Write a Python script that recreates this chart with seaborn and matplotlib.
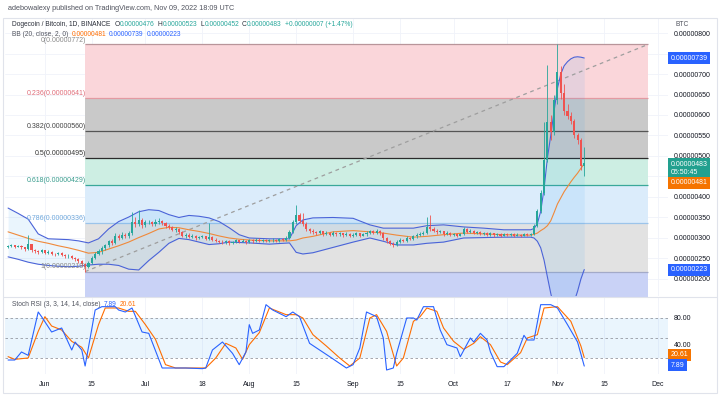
import numpy as np
import pandas as pd
import matplotlib
matplotlib.use('Agg')
import matplotlib.pyplot as plt
import matplotlib.transforms as mtransforms
from matplotlib.ticker import FuncFormatter
import seaborn as sns

# prices are in units of 1e-8 BTC (satoshi)
first_day = '2022-05-21'
first_open = 278

close_may = [280, 282, 279, 281, 277, 272, 285, 270, 268, 266, 270]
close_jun = [264, 267, 262, 260, 263, 258, 255, 257, 252, 249, 244, 236, 230, 240, 252,
             262, 268, 275, 282, 292, 288, 305, 300, 308, 305, 312, 340, 335, 345, 332]
close_jul = [338, 340, 333, 340, 342, 336, 330, 328, 320, 322, 315, 306, 308, 303, 305, 300,
             302, 304, 298, 302, 296, 293, 291, 289, 292, 288, 290, 294, 291, 293, 290]
close_aug = [294, 292, 296, 293, 295, 292, 294, 296, 293, 297, 295, 300, 315, 338, 355, 342,
             335, 322, 318, 315, 313, 316, 310, 313, 308, 312, 309, 311, 307, 310, 306]
close_sep = [308, 311, 306, 309, 312, 316, 313, 318, 312, 300, 292, 286, 283, 290, 295,
             293, 300, 298, 304, 308, 310, 312, 326, 322, 318, 314, 316, 310, 312, 308]
close_oct = [310, 306, 309, 322, 315, 318, 312, 314, 310, 312, 308, 311, 307, 309, 306, 310,
             307, 309, 306, 308, 305, 309, 307, 310, 330, 365, 410, 490, 583, 558, 636]
close_nov = [705, 654, 610, 598, 585, 552, 538, 476, 483]

high_may = [284, 285, 284, 283, 282, 278, 307, 286, 272, 270, 274]
high_jun = [271, 270, 268, 264, 266, 265, 260, 260, 258, 254, 251, 246, 240, 244, 255,
            266, 272, 280, 286, 296, 298, 312, 310, 314, 312, 318, 363, 350, 368, 348]
high_jul = [344, 345, 342, 346, 348, 345, 338, 334, 330, 326, 324, 318, 312, 311, 309, 307,
            306, 308, 306, 337, 305, 299, 296, 294, 295, 294, 293, 297, 296, 297, 295]
high_aug = [298, 297, 300, 299, 298, 297, 298, 301, 298, 301, 300, 305, 320, 345, 380, 362,
            362, 338, 325, 321, 318, 320, 318, 316, 315, 316, 314, 315, 313, 314, 312]
high_sep = [312, 315, 313, 313, 316, 320, 319, 322, 320, 314, 302, 295, 290, 294, 299,
            298, 304, 303, 308, 312, 314, 318, 351, 355, 326, 321, 320, 318, 316, 314]
high_oct = [313, 312, 312, 328, 324, 321, 319, 317, 316, 315, 314, 314, 313, 313, 311, 313,
            312, 312, 311, 311, 310, 312, 311, 313, 334, 370, 418, 583, 722, 600, 650]
high_nov = [772, 720, 675, 628, 607, 590, 556, 545, 523]

low_may = [276, 278, 276, 277, 274, 268, 270, 266, 264, 262, 263]
low_jun = [260, 261, 259, 257, 258, 255, 251, 252, 249, 245, 240, 232, 218, 226, 236,
           248, 258, 262, 270, 278, 284, 285, 296, 297, 300, 301, 308, 326, 330, 325]
low_jul = [328, 333, 329, 330, 335, 331, 325, 322, 316, 315, 310, 302, 300, 299, 300, 296,
           297, 299, 294, 296, 292, 289, 287, 285, 286, 284, 285, 288, 287, 289, 286]
low_aug = [288, 288, 290, 289, 290, 289, 290, 291, 289, 291, 292, 293, 298, 312, 334, 336,
           330, 318, 312, 309, 308, 310, 306, 307, 304, 305, 305, 306, 303, 304, 302]
low_sep = [303, 305, 303, 304, 306, 309, 309, 310, 308, 296, 288, 282, 278, 281, 287,
           289, 291, 294, 296, 301, 304, 307, 309, 318, 314, 310, 311, 306, 307, 304]
low_oct = [305, 303, 304, 307, 312, 312, 309, 310, 307, 308, 305, 306, 302, 305, 303, 305,
           304, 305, 303, 304, 302, 304, 304, 305, 308, 328, 360, 405, 485, 540, 552]
low_nov = [628, 640, 600, 590, 578, 545, 530, 465, 452]

# Bollinger bands (20, close, 2)
bb_dates = ['2022-05-21', '2022-05-24', '2022-05-27', '2022-05-30',
            '2022-06-02', '2022-06-05', '2022-06-08', '2022-06-11', '2022-06-14', '2022-06-17',
            '2022-06-20', '2022-06-23', '2022-06-26', '2022-06-29',
            '2022-07-02', '2022-07-05', '2022-07-08', '2022-07-11', '2022-07-14', '2022-07-17',
            '2022-07-20', '2022-07-23', '2022-07-26', '2022-07-29',
            '2022-08-01', '2022-08-07', '2022-08-13', '2022-08-15', '2022-08-17', '2022-08-20',
            '2022-08-26',
            '2022-09-01', '2022-09-06', '2022-09-10', '2022-09-14', '2022-09-19', '2022-09-23',
            '2022-09-28',
            '2022-10-04', '2022-10-10', '2022-10-16', '2022-10-22', '2022-10-24', '2022-10-25',
            '2022-10-26', '2022-10-27', '2022-10-28', '2022-10-29', '2022-10-30', '2022-10-31',
            '2022-11-01', '2022-11-02', '2022-11-03', '2022-11-04', '2022-11-05', '2022-11-06',
            '2022-11-07', '2022-11-08', '2022-11-09']
bb_upper = [373, 360, 346, 310,
            298, 297, 296, 293, 288, 298, 322, 340, 351, 364,
            369, 367, 357, 350, 355, 353, 349, 340, 325, 308,
            300, 298, 298, 330, 344, 349, 350,
            348, 332, 324, 324, 324, 330, 332,
            327, 324, 320, 320, 320, 323, 335, 365, 420, 495, 550, 610,
            665, 700, 720, 730, 737, 741, 742, 741, 739]
bb_basis = [315, 307, 299, 292,
            287, 281, 276, 270, 263, 265, 273, 281, 290, 301,
            311, 322, 326, 325, 320, 316, 311, 305, 300, 297,
            295, 293, 293, 295, 300, 304, 315,
            318, 315, 312, 307, 302, 304, 308,
            312, 310, 308, 307, 307, 309, 312, 318, 323, 330, 342, 362,
            383, 398, 413, 425, 437, 448, 458, 470, 481]
bb_lower = [254, 248, 241, 236,
            233, 231, 230, 231, 234, 236, 236, 233, 224, 222,
            245, 265, 287, 299, 296, 290, 284, 286, 290, 289,
            288, 285, 288, 265, 261, 264, 277,
            290, 300, 292, 283, 283, 287, 290,
            300, 301, 302, 302, 302, 300, 292, 276, 246, 205, 165, 130,
            110, 95, 90, 100, 118, 145, 170, 200, 223]

# Stoch RSI (3, 3, 14, 14, close)
k_dates = ['05-21', '05-23', '05-25', '05-27', '05-30', '05-31', '06-03', '06-06', '06-09',
           '06-10', '06-12', '06-13', '06-16', '06-18', '06-22', '06-23', '06-25', '06-27',
           '06-30', '07-02', '07-03', '07-06', '07-09', '07-13', '07-18', '07-19', '07-21',
           '07-24', '07-27', '07-29', '07-31', '08-01', '08-02', '08-04', '08-06', '08-08',
           '08-12', '08-14', '08-16', '08-19', '08-22', '08-25', '08-30', '09-01', '09-03',
           '09-05', '09-08', '09-10', '09-11', '09-13', '09-14', '09-17', '09-19', '09-20',
           '09-22', '09-25', '09-27', '09-29', '10-02', '10-03', '10-06', '10-07', '10-09',
           '10-11', '10-12', '10-14', '10-16', '10-20', '10-22', '10-23', '10-25', '10-27',
           '10-30', '11-01', '11-04', '11-07', '11-09']
k_vals = [17, 17, 29, 24, 89, 82, 59, 65, 32,
          44, 32, 8, 92, 97, 97, 92, 89, 95,
          59, 57, 44, 5, 5, 5, 4, 5, 32,
          44, 27, 10, 29, 70, 57, 62, 100, 92,
          82, 89, 82, 42, 32, 22, 5, 10, 35,
          89, 82, 50, 2, 5, 27, 80, 80, 77,
          97, 97, 62, 40, 35, 22, 50, 44, 57,
          47, 29, 7, 7, 27, 54, 47, 47, 100,
          100, 95, 70, 44, 7.89]
d_dates = ['05-21', '05-23', '05-27', '05-30', '06-01', '06-03', '06-06', '06-09', '06-12',
           '06-14', '06-17', '06-19', '06-23', '06-26', '06-28', '07-01', '07-04', '07-07',
           '07-10', '07-19', '07-22', '07-25', '07-28', '07-30', '08-01', '08-04', '08-07',
           '08-12', '08-15', '08-17', '08-20', '08-24', '08-28', '08-31', '09-03', '09-06',
           '09-08', '09-11', '09-14', '09-16', '09-19', '09-21', '09-23', '09-26', '09-28',
           '10-01', '10-04', '10-07', '10-09', '10-12', '10-15', '10-17', '10-21', '10-23',
           '10-26', '10-28', '11-01', '11-05', '11-08', '11-09']
d_vals = [22, 18, 20, 60, 82, 68, 62, 45, 36,
          20, 70, 95, 95, 90, 90, 70, 48, 10,
          5, 5, 20, 42, 35, 18, 40, 58, 95,
          85, 85, 80, 55, 38, 20, 8, 20, 80,
          85, 60, 8, 20, 75, 82, 95, 90, 65,
          45, 33, 42, 52, 40, 14, 10, 28, 50,
          55, 95, 97, 75, 38, 20.61]

# fibonacci retracement
fib_ratios = [0, 0.236, 0.382, 0.5, 0.618, 0.786, 1]
fib_prices = [772, 641, 560, 495, 429, 336, 218]
fib_start = '2022-06-13'
fib_end = '2022-11-28'

price_ticks = [200, 250, 300, 350, 400, 450, 500, 550, 600, 650, 700, 750, 800]
hidden_price_ticks = [450, 750]   # covered by the last-value boxes
stoch_ticks = [0, 40, 80]
date_ticks = ['2022-06-01', '2022-06-15', '2022-07-01', '2022-07-18', '2022-08-01',
              '2022-08-15', '2022-09-01', '2022-09-15', '2022-10-01', '2022-10-17',
              '2022-11-01', '2022-11-15', '2022-12-01']
date_labels = ['Jun', '15', 'Jul', '18', 'Aug', '15', 'Sep', '15', 'Oct', '17', 'Nov', '15', 'Dec']

GREEN = '#26a69a'
RED = '#ef5350'
BLUE = '#2962ff'
ORANGE = '#ff6d00'

sns.set_theme(style='white')
plt.rcParams['font.family'] = ['Liberation Sans', 'DejaVu Sans']

closes = close_may + close_jun + close_jul + close_aug + close_sep + close_oct + close_nov
highs = high_may + high_jun + high_jul + high_aug + high_sep + high_oct + high_nov
lows = low_may + low_jun + low_jul + low_aug + low_sep + low_oct + low_nov
day0 = pd.Timestamp(first_day)
df = pd.DataFrame({'date': pd.date_range(day0, periods=len(closes), freq='D'),
                   'open': [first_open] + closes[:-1], 'high': highs, 'low': lows,
                   'close': closes})
df['up'] = df['close'] >= df['open']

bb = pd.DataFrame({'date': pd.to_datetime(bb_dates), 'upper': bb_upper,
                   'basis': bb_basis, 'lower': bb_lower})
kdf = pd.DataFrame({'date': pd.to_datetime(['2022-' + d for d in k_dates]), 'k': k_vals})
ddf = pd.DataFrame({'date': pd.to_datetime(['2022-' + d for d in d_dates]), 'd': d_vals})

W, H = 719, 395
fig = plt.figure(figsize=(W / 100, H / 100), dpi=100)
fig.patch.set_facecolor('white')
ax = fig.add_axes([5 / W, 1 - 296 / H, 663 / W, 278 / H])
ax2 = fig.add_axes([5 / W, 1 - 374 / H, 663 / W, 77 / H], sharex=ax)

xmin = day0 - pd.Timedelta(hours=22)
xmax = day0 + pd.Timedelta(days=197)

# ---- price panel ----
ax.set_ylim(158.5, 836.6)
ax.set_xlim(xmin, xmax)
for t in price_ticks:
    ax.axhline(t, color='#f0f3fa', lw=0.6, zorder=0)
for t in date_ticks:
    ax.axvline(pd.Timestamp(t), color='#f0f3fa', lw=0.6, zorder=0)
    ax2.axvline(pd.Timestamp(t), color='#f0f3fa', lw=0.6, zorder=0)

fs, fe = pd.Timestamp(fib_start), pd.Timestamp(fib_end)
band_colors = ['#fad6da', '#c9c9c9', '#c9c9c9', '#cdeee3', '#dbecfb', '#e2e2e2']
for i, c in enumerate(band_colors):
    ax.fill_between([fs, fe], fib_prices[i + 1], fib_prices[i], color=c, lw=0, zorder=1)
ax.fill_between([fs, fe], 150, fib_prices[-1], color='#c9d2f6', lw=0, zorder=1)

line_colors = ['#b8959a', '#e39aa2', '#555555', '#2b2b2b', '#3aa89a', '#9cc4ea', '#a3aac8']
label_colors = ['#8a8a8a', '#e06c78', '#444444', '#333333', '#3a9d8e', '#6fa8dc', '#8a8a8a']
lbl_trans = mtransforms.blended_transform_factory(ax.transAxes, ax.transData)
for r, p, lc, tc in zip(fib_ratios, fib_prices, line_colors, label_colors):
    ax.hlines(p, fs, fe, color=lc, lw=0.9, zorder=2)
    # the top label sits tight on its line, under the indicator legend
    lift = 0 if r == 0 else 3
    ax.text(81 / 663, p + lift, f'{r:g}({p * 1e-8:.8f})', transform=lbl_trans,
            ha='right', va='bottom', fontsize=5, color=tc, zorder=6)

ax.plot([fs, fe], [fib_prices[-1], fib_prices[0]], color='#9e9e9e', lw=0.9,
        ls=(0, (3, 3)), zorder=3)

# bollinger bands
ax.fill_between(bb['date'], bb['lower'], bb['upper'], color='#2196f3', alpha=0.09, lw=0, zorder=2)
sns.lineplot(data=bb, x='date', y='upper', ax=ax, color='#4a63d8', lw=0.8, zorder=3)
sns.lineplot(data=bb, x='date', y='lower', ax=ax, color='#4a63d8', lw=0.8, zorder=3)
sns.lineplot(data=bb, x='date', y='basis', ax=ax, color='#f0893a', lw=0.8, zorder=3)

# candles
cols = np.where(df['up'], GREEN, RED)
body_lo = df[['open', 'close']].min(axis=1)
body_h = (df['close'] - df['open']).abs().clip(lower=1.2)
ax.vlines(df['date'], df['low'], df['high'], colors=cols, lw=0.6, zorder=4)
ax.bar(df['date'], body_h, bottom=body_lo, width=0.62, color=cols, lw=0, zorder=5)

ax.set_xlabel('')
ax.set_ylabel('')
ax.yaxis.tick_right()
ax.set_yticks(price_ticks)
ax.yaxis.set_major_formatter(FuncFormatter(
    lambda v, _: '' if round(v) in hidden_price_ticks else f'{v * 1e-8:.8f}'))
ax.tick_params(axis='y', labelsize=5, colors='#131722', length=0, pad=4)
ax.tick_params(axis='x', labelbottom=False, length=0)
for s in ax.spines.values():
    s.set_visible(False)

box_kw = dict(ha='left', fontsize=5, color='white', transform=lbl_trans, zorder=10)
ax.text(1.004, 739, '0.00000739', va='center',
        bbox=dict(boxstyle='square,pad=0.35', fc=BLUE, ec='none'), **box_kw)
ax.text(1.004, 489, '0.00000483\n05:50:45', va='top', linespacing=1.25,
        bbox=dict(boxstyle='square,pad=0.35', fc='#22a08f', ec='none'), **box_kw)
ax.text(1.004, 435, '0.00000481', va='center',
        bbox=dict(boxstyle='square,pad=0.35', fc='#f57400', ec='none'), **box_kw)
ax.text(1.004, 222, '0.00000223', va='center',
        bbox=dict(boxstyle='square,pad=0.35', fc=BLUE, ec='none'), **box_kw)

# ---- stoch rsi panel ----
ax2.set_ylim(-4, 111.5)
ax2.axhspan(20, 80, color='#2196f3', alpha=0.09, lw=0, zorder=0)
for lvl in [80, 50, 20]:
    ax2.axhline(lvl, color='#9598a1', lw=0.6, ls=(0, (3, 3)), zorder=1)
sns.lineplot(data=ddf, x='date', y='d', ax=ax2, color=ORANGE, lw=0.8, zorder=3)
sns.lineplot(data=kdf, x='date', y='k', ax=ax2, color=BLUE, lw=0.8, zorder=4)
ax2.set_xlabel('')
ax2.set_ylabel('')
ax2.yaxis.tick_right()
ax2.set_yticks(stoch_ticks)
ax2.yaxis.set_major_formatter(FuncFormatter(lambda v, _: '' if v < 1 else f'{v:.2f}'))
ax2.tick_params(axis='y', labelsize=5, colors='#131722', length=0, pad=4)
ax2.set_xticks(pd.to_datetime(date_ticks))
ax2.set_xticklabels(date_labels)
ax2.tick_params(axis='x', labelsize=5, colors='#131722', length=0, pad=5)
ax2.set_xlim(xmin, xmax)
for s in ax2.spines.values():
    s.set_visible(False)

st_trans = mtransforms.blended_transform_factory(ax2.transAxes, ax2.transData)
ax2.text(1.004, 25, '20.61', va='center', ha='left', fontsize=5, color='white',
         transform=st_trans, bbox=dict(boxstyle='square,pad=0.35', fc='#f57400', ec='none'))
ax2.text(1.004, 9, '7.89', va='center', ha='left', fontsize=5, color='white',
         transform=st_trans, bbox=dict(boxstyle='square,pad=0.35', fc=BLUE, ec='none'))

# ---- header / legends, laid out left to right ----
renderer = fig.canvas.get_renderer()


def text_run(x, y, parts, size=4.8):
    for s, color, gap in parts:
        t = fig.text(x / W, 1 - y / H, s, color=color, fontsize=size, ha='left', va='center')
        x = t.get_window_extent(renderer).x1 + gap


text_run(8, 9, [('adebowalexy published on TradingView.com, Nov 09, 2022 18:09 UTC', '#50535e', 0)],
         size=5.2)
text_run(12, 25, [('Dogecoin / Bitcoin, 1D, BINANCE', '#2a2e39', 4),
                  ('O', '#2a2e39', 0.3), ('0.00000476', GREEN, 3),
                  ('H', '#2a2e39', 0.3), ('0.00000523', GREEN, 3),
                  ('L', '#2a2e39', 0.3), ('0.00000452', GREEN, 3),
                  ('C', '#2a2e39', 0.3), ('0.00000483', GREEN, 3),
                  ('+0.00000007 (+1.47%)', GREEN, 0)])
text_run(12, 34, [('BB (20, close, 2, 0)', '#50535e', 3), ('0.00000481', ORANGE, 3),
                  ('0.00000739', BLUE, 3), ('0.00000223', BLUE, 0)])
text_run(12, 305, [('Stoch RSI (3, 3, 14, 14, close)', '#50535e', 3), ('7.89', BLUE, 3),
                   ('20.61', ORANGE, 0)])
text_run(675, 25, [('BTC', '#50535e', 0)])

fig.add_artist(plt.Rectangle((3 / W, 2 / H), 714 / W, 375 / H, transform=fig.transFigure,
                             fill=False, ec='#e0e3eb', lw=0.8))
fig.add_artist(plt.Line2D([3 / W, 717 / W], [1 - 296.5 / H] * 2, transform=fig.transFigure,
                          color='#e0e3eb', lw=0.8))

fig.savefig('out.png', dpi=100)
